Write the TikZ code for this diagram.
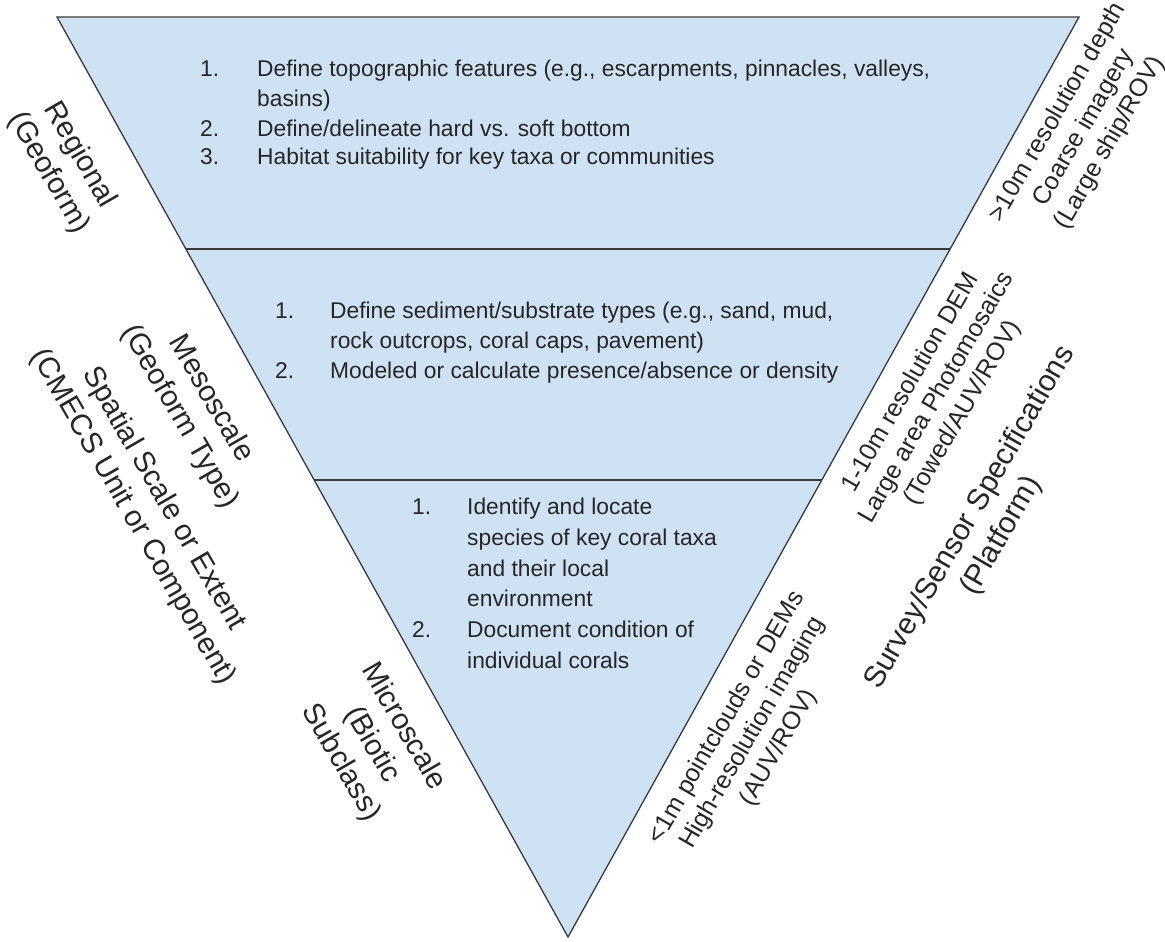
\documentclass[tikz,border=0pt]{standalone}
\usepackage{fontspec}
\setmainfont{Liberation Sans}
\usetikzlibrary{calc}
\definecolor{fillblue}{HTML}{CFE2F3}
\definecolor{edgegray}{HTML}{3A3A3A}
\definecolor{ink}{HTML}{262626}
\tikzset{
  body/.style={anchor=base west, inner sep=0pt, text=ink, font=\fontsize{22.8}{30}\selectfont},
  sidel/.style={align=center, inner sep=0pt, text=ink, rotate=-60, font=\fontsize{29.5}{36}\selectfont},
  sider/.style={align=center, inner sep=0pt, text=ink, rotate=60, font=\fontsize{25}{30}\selectfont},
  sidebig/.style={align=center, inner sep=0pt, text=ink, rotate=60, font=\fontsize{30}{36}\selectfont},
  tri/.style={fill=fillblue, draw=edgegray, line width=1.3pt, line join=miter},
  divider/.style={draw=edgegray, line width=1.6pt},
}
\begin{document}
\begin{tikzpicture}[x=1pt,y=-1pt]
\fill[white] (0,0) rectangle (1165,942);
\useasboundingbox (0,0) rectangle (1165,942);
% triangle
\coordinate (TL) at (57,17);
\coordinate (TR) at (1079,17);
\coordinate (AP) at (568,937);
\path[tri] (TL) -- (TR) -- (AP) -- cycle;
\coordinate (d1l) at ($(TL)!0.2522!(AP)$);
\coordinate (d1r) at ($(TR)!0.2522!(AP)$);
\coordinate (d2l) at ($(TL)!0.5033!(AP)$);
\coordinate (d2r) at ($(TR)!0.5033!(AP)$);
\draw[divider] (d1l) -- (d1r);
\draw[divider] (d2l) -- (d2r);
% top section
\node[body] (a1n) at (200,77) {1.};
\node[body] (a1a) at (257,77) {Define topographic features (e.g., escarpments, pinnacles, valleys,};
\node[body] (a1b) at (257,106.5) {basins)};
\node[body] (a2n) at (200,136) {2.};
\node[body] (a2a) at (257,136) {Define/delineate hard vs. soft bottom};
\node[body] (a3n) at (200,164) {3.};
\node[body] (a3a) at (257,164) {Habitat suitability for key taxa or communities};
% middle section
\node[body] (b1n) at (275,318) {1.};
\node[body] (b1a) at (330,318) {Define sediment/substrate types (e.g., sand, mud,};
\node[body] (b1b) at (330,348) {rock outcrops, coral caps, pavement)};
\node[body] (b2n) at (275,378) {2.};
\node[body] (b2a) at (330,378) {Modeled or calculate presence/absence or density};
% bottom section
\node[body] (c1n) at (412,514) {1.};
\node[body] (c1a) at (467,514) {Identify and locate};
\node[body] (c1b) at (467,545) {species of key coral taxa};
\node[body] (c1c) at (467,576) {and their local};
\node[body] (c1d) at (467,606) {environment};
\node[body] (c2n) at (412,637) {2.};
\node[body] (c2a) at (467,637) {Document condition of};
\node[body] (c2b) at (467,668) {individual corals};
% left labels
\node[sidel] (regional) at (64,164) {Regional\\(Geoform)};
\node[sidel] (meso) at (195,408) {Mesoscale\\(Geoform Type)};
\node[sidel] (spatial) at (148,508) {Spatial Scale or Extent\\(CMECS Unit or Component)};
\node[sidel] (micro) at (372,745) {Microscale\\(Biotic\\Subclass)};
% right labels
\node[sider] (coarse) at (1084,128) {>10m resolution depth\\Coarse imagery\\(Large ship/ROV)};
\node[sider] (dem) at (937,398) {1-10m resolution DEM\\Large area Photomosaics\\(Towed/AUV/ROV)};
\node[sider] (fine) at (753,733) {<1m pointclouds or DEMs\\High-resolution imaging\\(AUV/ROV)};
\node[sidebig] (survey) at (986,527) {Survey/Sensor Specifications\\(Platform)};
\end{tikzpicture}
\end{document}
